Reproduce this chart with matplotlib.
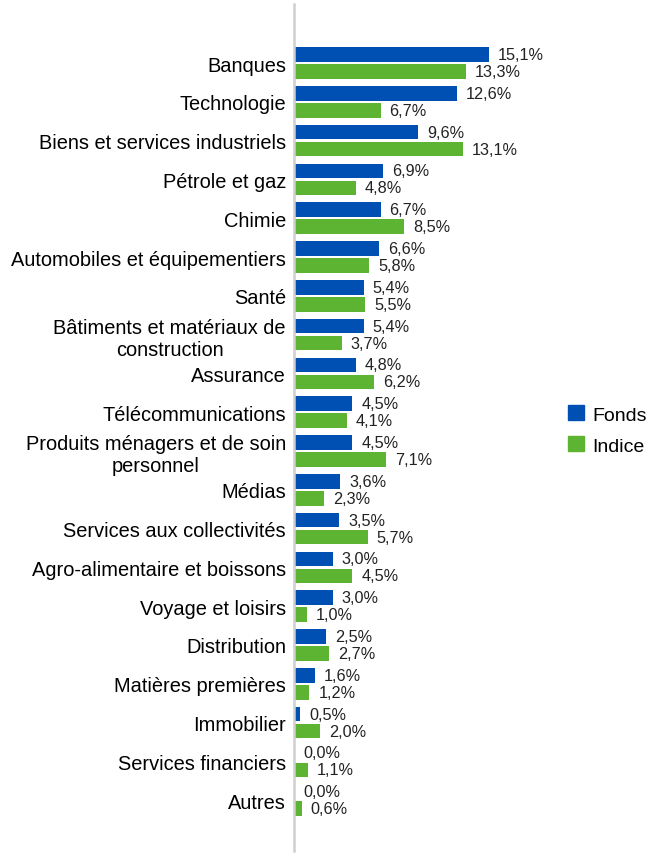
import matplotlib
matplotlib.use("Agg")
import matplotlib.pyplot as plt
import numpy as np
from matplotlib.patches import Patch

plt.rcParams['font.family'] = ['Liberation Sans', 'DejaVu Sans']

categories = [
    "Banques", "Technologie", "Biens et services industriels", "Pétrole et gaz",
    "Chimie", "Automobiles et équipementiers", "Santé",
    "Bâtiments et matériaux de\nconstruction", "Assurance", "Télécommunications",
    "Produits ménagers et de soin\npersonnel", "Médias", "Services aux collectivités",
    "Agro-alimentaire et boissons", "Voyage et loisirs", "Distribution",
    "Matières premières", "Immobilier", "Services financiers", "Autres",
]
fonds = [15.1, 12.6, 9.6, 6.9, 6.7, 6.6, 5.4, 5.4, 4.8, 4.5, 4.5, 3.6, 3.5, 3.0, 3.0, 2.5, 1.6, 0.5, 0.0, 0.0]
indice = [13.3, 6.7, 13.1, 4.8, 8.5, 5.8, 5.5, 3.7, 6.2, 4.1, 7.1, 2.3, 5.7, 4.5, 1.0, 2.7, 1.2, 2.0, 1.1, 0.6]
series_names = ["Fonds", "Indice"]

blue = "#0050B4"
green = "#5DB332"

fig = plt.figure(figsize=(6.6, 8.54), dpi=100)
ax = fig.add_axes([294 / 660, 2 / 854, (560 - 294) / 660, 847 / 854])

y = np.arange(len(categories))
off = 0.219
h = 0.375
ax.barh(y - off, fonds, height=h, color=blue)
ax.barh(y + off, indice, height=h, color=green)

for yi, v in zip(y, fonds):
    ax.annotate(f"{v:.1f}%".replace(".", ","), (v, yi - off), xytext=(6.5, 0),
                textcoords="offset points", va="center", ha="left", fontsize=11.7, color="#222222")
for yi, v in zip(y, indice):
    ax.annotate(f"{v:.1f}%".replace(".", ","), (v, yi + off), xytext=(6.5, 0),
                textcoords="offset points", va="center", ha="left", fontsize=11.7, color="#222222")

ax.set_xlim(0, 20.6)
ax.set_ylim(20.31, -1.521)
ax.set_yticks(y)
ax.set_yticklabels(categories, fontsize=14.4, multialignment="center", linespacing=1.2)
ax.tick_params(axis="y", length=0, pad=5.8)
ax.set_xticks([])
for s in ["top", "right", "bottom"]:
    ax.spines[s].set_visible(False)
ax.spines["left"].set_color("#cfcfcf")
ax.spines["left"].set_linewidth(1.8)
ax.patch.set_alpha(0)

handles = [Patch(color=blue, label=series_names[0]), Patch(color=green, label=series_names[1])]
fig.legend(handles=handles, loc="center left", bbox_to_anchor=(560 / 660, 1 - 431 / 854),
           frameon=False, fontsize=14, handlelength=0.82, handleheight=0.82, handletextpad=0.42,
           labelspacing=0.65, borderaxespad=0, borderpad=0.4)

fig.savefig("out.png", dpi=100)
